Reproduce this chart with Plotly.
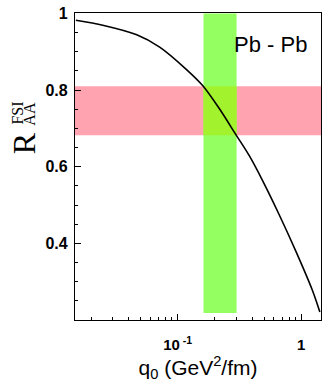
import plotly.graph_objects as go

# Data
q0 = [0.01503, 0.0248, 0.0467, 0.0716, 0.1175, 0.160, 0.218, 0.297, 0.381,
      0.488, 0.665, 0.906, 1.233, 1.415]
raa = [0.982, 0.969, 0.944, 0.912, 0.854, 0.811, 0.751, 0.683, 0.628,
       0.563, 0.474, 0.379, 0.277, 0.221]

raa_band = [0.682, 0.810]      # pink horizontal band (R_AA range)
q0_band = [0.162, 0.300]       # green vertical band (q0 range)
q0_band_bottom = 0.218

x_tickvals = [0.1, 1]
x_ticktext = ["10<sup> -1</sup>", "1"]
x_minor = [0.02, 0.03, 0.04, 0.05, 0.06, 0.07, 0.08, 0.09,
           0.2, 0.3, 0.4, 0.5, 0.6, 0.7, 0.8, 0.9]
y_tickvals = [0.4, 0.6, 0.8, 1.0]
y_ticktext = ["0.4", "0.6", "0.8", "1"]

PINK = "#ffa3b0"
GREEN = "#93ff60"
OVERLAP = "#a2f22e"

fig = go.Figure()
fig.add_trace(go.Scatter(x=q0, y=raa, mode="lines",
                         line=dict(color="black", width=1.6, shape="spline", smoothing=0.8),
                         showlegend=False, hoverinfo="skip"))

fig.add_shape(type="rect", xref="paper", yref="y", x0=0, x1=1,
              y0=raa_band[0], y1=raa_band[1], fillcolor=PINK, line_width=0, layer="below")
fig.add_shape(type="rect", xref="x", yref="y", x0=q0_band[0], x1=q0_band[1],
              y0=q0_band_bottom, y1=1.0, fillcolor=GREEN, line_width=0, layer="below")
fig.add_shape(type="rect", xref="x", yref="y", x0=q0_band[0], x1=q0_band[1],
              y0=raa_band[0], y1=raa_band[1], fillcolor=OVERLAP, line_width=0, layer="below")

fig.update_xaxes(type="log", range=[-1.83, 0.16], showgrid=False, zeroline=False,
                 showline=True, linecolor="black", linewidth=1.3, mirror=True,
                 ticks="inside", ticklen=6, tickcolor="black", tickwidth=1,
                 tickmode="array", tickvals=x_tickvals, ticktext=x_ticktext,
                 tickfont=dict(family="Liberation Sans", size=15, color="black", weight="bold"),
                 ticklabelstandoff=11, ticklabeloverflow="allow",
                 minor=dict(tickmode="array", tickvals=x_minor, ticks="inside",
                            ticklen=3, tickcolor="black", showgrid=False),
                 title=dict(text="q<sub>0</sub> (GeV<sup>2</sup>/fm)",
                            font=dict(family="Liberation Sans", size=21, color="black"),
                            standoff=6))
fig.update_yaxes(range=[0.2, 1.001], showgrid=False, zeroline=False,
                 showline=True, linecolor="black", linewidth=1.3, mirror=True,
                 ticks="inside", ticklen=6, tickcolor="black", tickwidth=1,
                 tickmode="array", tickvals=y_tickvals, ticktext=y_ticktext,
                 tickfont=dict(family="Liberation Sans", size=16, color="black", weight="bold"),
                 ticklabelstandoff=3, ticklabeloverflow="allow",
                 minor=dict(dtick=0.05, tick0=0, ticks="inside", ticklen=3,
                            tickcolor="black", showgrid=False))

serif = "Liberation Serif"
fig.add_annotation(xref="paper", yref="paper", x=-0.206, y=0.577, text="R",
                   textangle=-90, showarrow=False,
                   font=dict(family=serif, size=32, color="black"),
                   xanchor="center", yanchor="middle")
fig.add_annotation(xref="paper", yref="paper", x=-0.235, y=0.673, text="FSI",
                   textangle=-90, showarrow=False,
                   font=dict(family=serif, size=16, color="black"),
                   xanchor="center", yanchor="middle")
fig.add_annotation(xref="paper", yref="paper", x=-0.186, y=0.673, text="AA",
                   textangle=-90, showarrow=False,
                   font=dict(family=serif, size=16, color="black"),
                   xanchor="center", yanchor="middle")

fig.add_annotation(xref="paper", yref="paper", x=0.796, y=0.896, text="Pb - Pb",
                   showarrow=False, xanchor="center", yanchor="middle",
                   font=dict(family="Liberation Sans", size=22, color="black"))

fig.update_layout(width=327, height=388, margin=dict(l=75, r=5, t=8, b=68),
                  plot_bgcolor="white", paper_bgcolor="white", showlegend=False)

fig.write_html("out.html", config={"displayModeBar": False},
               post_script="document.body.style.margin='0';")
